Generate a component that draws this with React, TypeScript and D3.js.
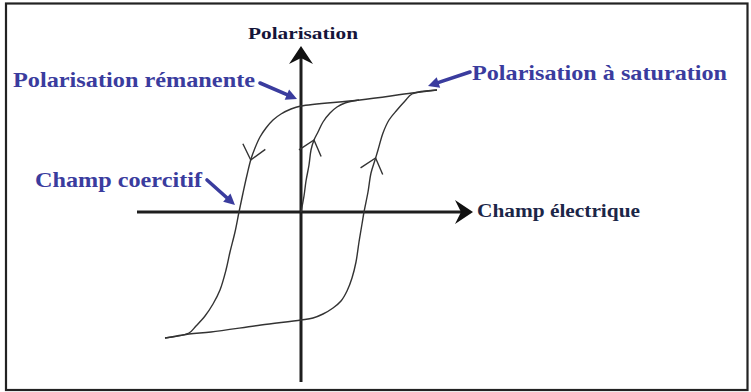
import React from 'react';
import * as d3 from 'd3';

const W = 751;
const H = 392;

// Electric field E and polarisation P (normalised units)
const descendingE = [1.36, 1.11, 0.59, 0.0, -0.10, -0.20, -0.28, -0.35, -0.41, -0.46, -0.50, -0.54, -0.58, -0.62, -0.66, -0.71, -0.75, -0.81, -0.88, -0.96, -1.05, -1.12, -1.36];
const descendingP = [1.22, 1.19, 1.12, 1.06, 1.03, 0.98, 0.92, 0.84, 0.75, 0.64, 0.53, 0.37, 0.19, 0.0, -0.20, -0.40, -0.58, -0.78, -0.92, -1.04, -1.14, -1.21, -1.26];
const ascendingE = [-1.36, -1.12, -0.90, -0.40, 0.0, 0.12, 0.22, 0.32, 0.40, 0.46, 0.51, 0.55, 0.58, 0.61, 0.63, 0.67, 0.70, 0.74, 0.77, 0.82, 0.88, 0.96, 1.04, 1.11, 1.36];
const ascendingP = [-1.26, -1.22, -1.20, -1.13, -1.08, -1.06, -1.02, -0.96, -0.89, -0.79, -0.66, -0.50, -0.30, -0.12, 0.0, 0.20, 0.39, 0.52, 0.62, 0.79, 0.92, 1.02, 1.11, 1.18, 1.22];
const initialE = [0.0, 0.03, 0.05, 0.08, 0.10, 0.13, 0.17, 0.22, 0.29, 0.36, 0.44, 0.58];
const initialP = [0.0, 0.16, 0.31, 0.47, 0.62, 0.72, 0.80, 0.90, 0.99, 1.05, 1.09, 1.12];

// direction chevrons on the curves: branch and P at the tip
const chevronBranch = ['descending', 'initial', 'ascending'];
const chevronP = [0.52, 0.72, 0.54];

// axes extents
const axisE = [-1.64, 1.72];
const axisP = [-1.70, 1.66];

// labels
const titleY = 'Polarisation';
const titleX = 'Champ électrique';
const annotRemanent = 'Polarisation rémanente';
const annotSaturation = 'Polarisation à saturation';
const annotCoercive = 'Champ coercitif';

const x = d3.scaleLinear().domain([-1.36, 1.36]).range([165, 437]);
const y = d3.scaleLinear().domain([-1.24, 1.24]).range([336, 88]);

const toPts = (es: number[], ps: number[]) => es.map((e, i) => [e, ps[i]] as [number, number]);
const branches: Record<string, [number, number][]> = {
  descending: toPts(descendingE, descendingP),
  ascending: toPts(ascendingE, ascendingP),
  initial: toPts(initialE, initialP),
};

const line = d3
  .line<[number, number]>()
  .x((d) => x(d[0]))
  .y((d) => y(d[1]))
  .curve(d3.curveCatmullRom.alpha(0.5));

function chevron(branchName: string, p: number) {
  const pts = branches[branchName];
  for (let i = 0; i < pts.length - 1; i++) {
    const a = pts[i], b = pts[i + 1];
    const lo = Math.min(a[1], b[1]), hi = Math.max(a[1], b[1]);
    if (p >= lo && p <= hi) {
      const t = (p - a[1]) / (b[1] - a[1] || 1);
      const e = a[0] + t * (b[0] - a[0]);
      const tx = x(e), ty = y(p);
      const dx = x(b[0]) - x(a[0]);
      const dy = y(b[1]) - y(a[1]);
      const len = Math.hypot(dx, dy);
      const ux = dx / len, uy = dy / len;
      const L = 18, ang = (40 * Math.PI) / 180;
      const back = (s: number) => {
        const c = Math.cos(s * ang), sn = Math.sin(s * ang);
        const rx = -ux * c + uy * sn;
        const ry = -uy * c - ux * sn;
        return [tx + rx * L, ty + ry * L];
      };
      const p1 = back(1), p2 = back(-1);
      return `M${p1[0]},${p1[1]}L${tx},${ty}L${p2[0]},${p2[1]}`;
    }
  }
  return '';
}

function Annot({ x1, y1, x2, y2 }: { x1: number; y1: number; x2: number; y2: number }) {
  const dx = x2 - x1, dy = y2 - y1;
  const len = Math.hypot(dx, dy);
  const ux = dx / len, uy = dy / len;
  const hl = 11, hw = 5.5;
  const bx = x2 - ux * hl, by = y2 - uy * hl;
  const pts = [
    [x2, y2],
    [bx - uy * hw, by + ux * hw],
    [bx + uy * hw, by - ux * hw],
  ];
  return (
    <g>
      <line x1={x1} y1={y1} x2={bx + ux * 2} y2={by + uy * 2} stroke="#3a3c9e" strokeWidth={3.6} strokeLinecap="round" />
      <polygon points={pts.map((p) => p.join(',')).join(' ')} fill="#3a3c9e" />
    </g>
  );
}

export default function App() {
  const x0 = x(0), y0 = y(0);
  const vTop = y(axisP[1]);
  const hRight = x(axisE[1]);
  const font = "'Liberation Serif', 'Times New Roman', serif";
  return (
    <div style={{ position: 'absolute', left: 0, top: 0 }}>
      <svg width={W} height={H} style={{ display: 'block', background: '#fff' }}>
        <rect x={6} y={3.5} width={741.5} height={386.5} fill="#fff" stroke="#222" strokeWidth={2.2} />
        {/* axes */}
        <line x1={x(axisE[0])} y1={y0} x2={hRight - 12} y2={y0} stroke="#1e1e1e" strokeWidth={3} />
        <line x1={x0} y1={y(axisP[0])} x2={x0} y2={vTop + 12} stroke="#1e1e1e" strokeWidth={3} />
        <polygon
          points={`${x0},${vTop} ${x0 - 12},${vTop + 18} ${x0},${vTop + 12} ${x0 + 12},${vTop + 18}`}
          fill="#111"
        />
        <polygon
          points={`${hRight},${y0} ${hRight - 18},${y0 - 12} ${hRight - 12},${y0} ${hRight - 18},${y0 + 12}`}
          fill="#111"
        />
        {/* hysteresis curves */}
        {Object.keys(branches).map((k) => (
          <path key={k} d={line(branches[k]) || ''} fill="none" stroke="#333" strokeWidth={1.4} />
        ))}
        {chevronBranch.map((b, i) => (
          <path key={'c' + i} d={chevron(b, chevronP[i])} fill="none" stroke="#333" strokeWidth={1.4} />
        ))}
        {/* annotation arrows */}
        <Annot x1={260} y1={83} x2={297} y2={99} />
        <Annot x1={470} y1={72} x2={428} y2={86} />
        <Annot x1={207} y1={180} x2={235} y2={205} />
        {/* labels */}
        <text x={248} y={39} fontFamily={font} fontWeight="bold" fontSize={16} fill="#15153a" textLength={110} lengthAdjust="spacingAndGlyphs">
          {titleY}
        </text>
        <text x={13} y={87} fontFamily={font} fontWeight="bold" fontSize={21} fill="#3a3c9e" textLength={242} lengthAdjust="spacingAndGlyphs">
          {annotRemanent}
        </text>
        <text x={472} y={80} fontFamily={font} fontWeight="bold" fontSize={21} fill="#3a3c9e" textLength={255} lengthAdjust="spacingAndGlyphs">
          {annotSaturation}
        </text>
        <text x={35} y={187} fontFamily={font} fontWeight="bold" fontSize={21} fill="#3a3c9e" textLength={167} lengthAdjust="spacingAndGlyphs">
          {annotCoercive}
        </text>
        <text x={477} y={217} fontFamily={font} fontWeight="bold" fontSize={18} fill="#1c2648" textLength={163} lengthAdjust="spacingAndGlyphs">
          {titleX}
        </text>
      </svg>
    </div>
  );
}
